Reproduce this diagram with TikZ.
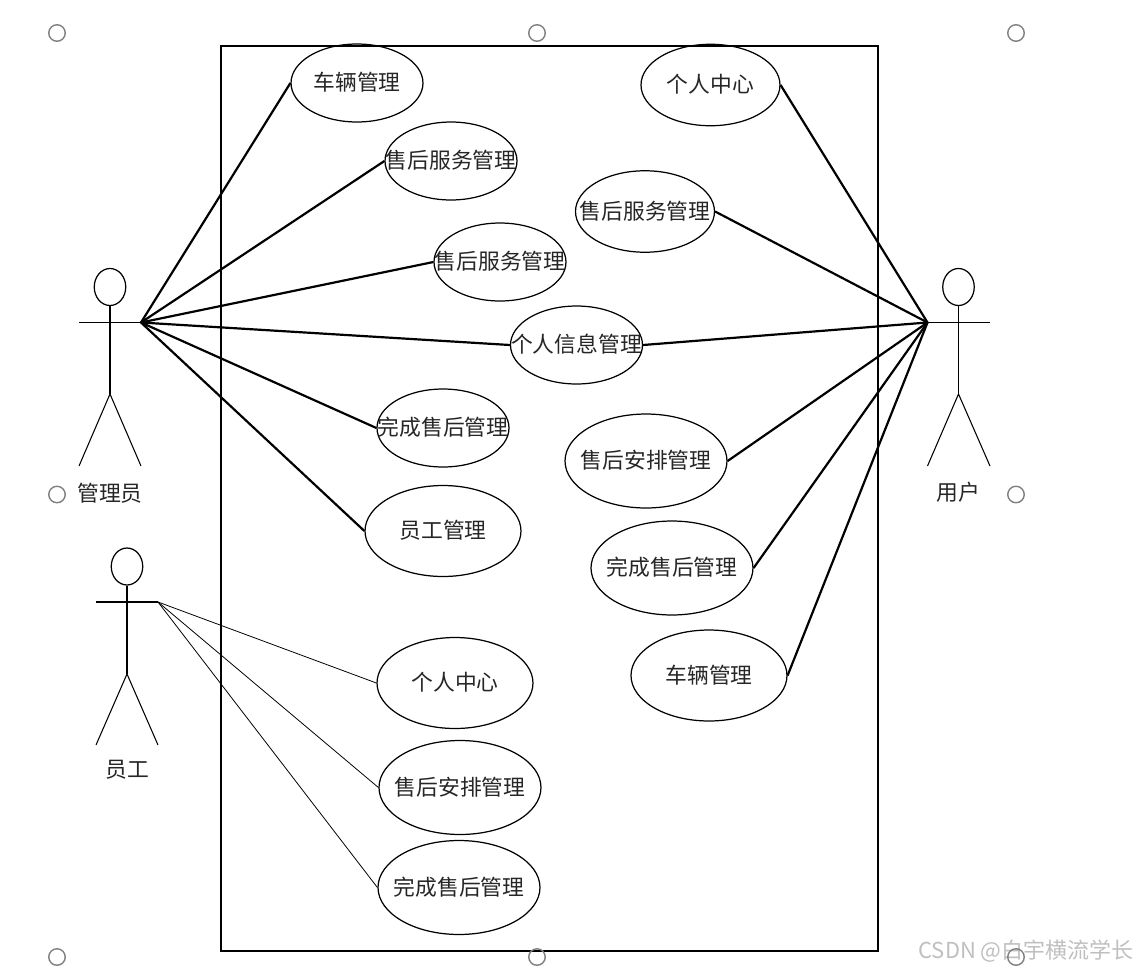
\documentclass[tikz,border=0pt]{standalone}
\usepackage{fontspec}
\setmainfont{Noto Sans CJK SC}
\usepackage{xcolor}
\usetikzlibrary{shapes.geometric}

\newcommand{\casetext}[1]{\makebox[0pt]{\raisebox{1.5pt}{#1}}}

\begin{document}
\begin{tikzpicture}[
    x=0.02cm, y=-0.02cm,
    font=\fontsize{12.4}{14}\selectfont,
    usecase/.style={draw=black, ellipse, line width=0.7pt, inner sep=0pt, text=black!85, minimum width=2.64cm, minimum height=1.56cm},
    midcase/.style={usecase, minimum width=3.12cm, minimum height=1.82cm},
    bigcase/.style={usecase, minimum width=3.24cm, minimum height=1.88cm},
    ownercase/.style={usecase, minimum width=2.78cm, minimum height=1.63cm},
    head/.style={draw=black, ellipse, line width=0.7pt, inner sep=0pt, minimum width=0.63cm, minimum height=0.74cm},
    limb/.style={draw=black, line width=0.6pt},
    handle/.style={circle, draw=gray, line width=0.8pt, inner sep=0pt, minimum size=0.33cm},
    link/.style={draw=black, line width=1.25pt},
    thinlink/.style={draw=black, line width=0.45pt},
    actorname/.style={inner sep=0pt, text=black!85}
]
    \useasboundingbox (0,0) rectangle (1137,971);

    % System boundary
    \node[draw=black, line width=1.1pt, inner sep=0pt, minimum width=13.14cm, minimum height=18.1cm] (system) at (549.5,498.5) {};

    % Left column
    \node[usecase] (car) at (357,83) {\casetext{车辆管理}};
    \node[usecase] (serviceA) at (451,161) {\casetext{售后服务管理}};
    \node[usecase] (serviceB) at (500,262) {\casetext{售后服务管理}};
    \node[usecase] (info) at (576.5,345) {\casetext{个人信息管理}};
    \node[usecase] (doneA) at (443,428) {\casetext{完成售后管理}};
    \node[midcase] (staff) at (443,531) {\casetext{员工管理}};

    % Right column
    \node[ownercase] (centerA) at (710.5,85) {\casetext{个人中心}};
    \node[ownercase] (serviceC) at (645,211.5) {\casetext{售后服务管理}};
    \node[bigcase] (planA) at (646,461) {\casetext{售后安排管理}};
    \node[bigcase] (doneB) at (672,568) {\casetext{完成售后管理}};
    \node[midcase] (carB) at (709,675.5) {\casetext{车辆管理}};

    % Employee cases
    \node[midcase] (centerB) at (455,683) {\casetext{个人中心}};
    \node[bigcase] (planB) at (460,787.5) {\casetext{售后安排管理}};
    \node[bigcase] (doneC) at (459,887.5) {\casetext{完成售后管理}};

    % Admin actor
    \node[head] (adminhead) at (110,287) {};
    \coordinate (adminarml) at (79,322.5);
    \coordinate (adminhand) at (141,322.5);
    \coordinate (adminhip) at (110,394);
    \coordinate (adminfootl) at (79,466);
    \coordinate (adminfootr) at (141,466);
    \draw[limb] (adminarml) -- (adminhand);
    \draw[limb] (adminhead) -- (adminhip);
    \draw[limb] (adminfootl) -- (adminhip) -- (adminfootr);
    \node[actorname] (adminname) at (110,493) {管理员};

    % User actor
    \node[head] (userhead) at (958.5,287) {};
    \coordinate (userhand) at (927.5,322.5);
    \coordinate (userarmr) at (990,322.5);
    \coordinate (userhip) at (958.5,394);
    \coordinate (userfootl) at (927.5,466);
    \coordinate (userfootr) at (990,466);
    \draw[limb] (userhand) -- (userarmr);
    \draw[limb] (userhead) -- (userhip);
    \draw[limb] (userfootl) -- (userhip) -- (userfootr);
    \node[actorname] (username) at (958,492) {用户};

    % Employee actor
    \node[head] (emphead) at (127,566.5) {};
    \coordinate (emparml) at (96,602);
    \coordinate (emphand) at (158,602);
    \coordinate (emphip) at (127,674);
    \coordinate (empfootl) at (96,745);
    \coordinate (empfootr) at (158,745);
    \draw[limb] (emparml) -- (emphand);
    \draw[limb] (emphead) -- (emphip);
    \draw[limb] (empfootl) -- (emphip) -- (empfootr);
    \node[actorname] (empname) at (127,770) {员工};

    % Connections
    \draw[link] (adminhand) -- (car.west);
    \draw[link] (adminhand) -- (serviceA.west);
    \draw[link] (adminhand) -- (serviceB.west);
    \draw[link] (adminhand) -- (info.west);
    \draw[link] (adminhand) -- (doneA.west);
    \draw[link] (adminhand) -- (staff.west);

    \draw[link] (userhand) -- (centerA.east);
    \draw[link] (userhand) -- (serviceC.east);
    \draw[link] (userhand) -- (info.east);
    \draw[link] (userhand) -- (planA.east);
    \draw[link] (userhand) -- (doneB.east);
    \draw[link] (userhand) -- (carB.east);

    \draw[thinlink] (emphand) -- (centerB.west);
    \draw[thinlink] (emphand) -- (planB.west);
    \draw[thinlink] (emphand) -- (doneC.west);

    % Watermark
    \node[text=black!25, inner sep=0pt, font=\fontsize{12.5}{14}\selectfont] (mark) at (1026,951) {CSDN @白宇横流学长};

    % Selection handles
    \node[handle] (h1) at (57,33) {};
    \node[handle] (h2) at (537,33) {};
    \node[handle] (h3) at (1016,33) {};
    \node[handle] (h4) at (57,494.5) {};
    \node[handle] (h5) at (1016,494.5) {};
    \node[handle] (h6) at (57,957) {};
    \node[handle] (h7) at (537,957) {};
    \node[handle] (h8) at (1016,957) {};
\end{tikzpicture}
\end{document}
